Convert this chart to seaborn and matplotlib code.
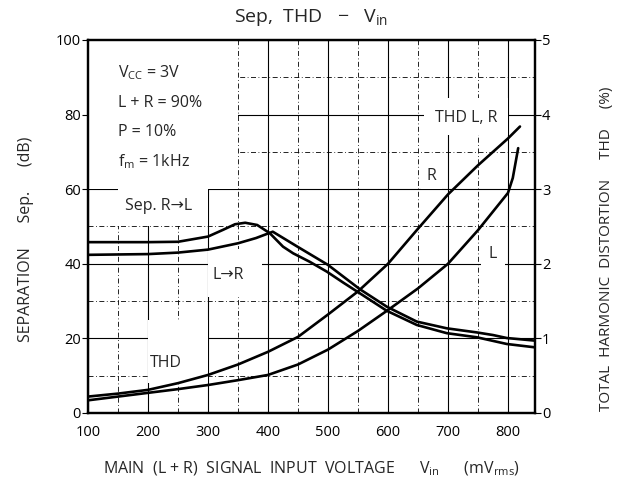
import matplotlib
matplotlib.use("Agg")
import matplotlib.pyplot as plt
from matplotlib.patches import Rectangle
from matplotlib.ticker import MultipleLocator
import seaborn as sns
import pandas as pd

# Separation curves (dB) vs input voltage (mVrms)
sep_r2l_x = [100, 200, 250, 300, 325, 345, 362, 382, 403, 425, 442, 470, 498, 525, 553, 598, 648, 698, 748, 798, 845]
sep_r2l_y = [45.8, 45.8, 45.9, 47.3, 49.1, 50.6, 51.0, 50.4, 48.2, 44.6, 42.8, 40.5, 37.9, 35.0, 32.1, 27.4, 23.6, 21.4, 20.3, 18.5, 17.6]
sep_l2r_x = [100, 200, 250, 300, 350, 380, 408, 450, 500, 553, 598, 648, 698, 748, 775, 798, 845]
sep_l2r_y = [42.4, 42.6, 43.0, 43.8, 45.5, 46.9, 48.6, 44.5, 39.7, 33.2, 28.5, 24.5, 22.7, 21.6, 20.9, 20.1, 19.4]

# THD curves (%) vs input voltage (mVrms)
thd_r_x = [100, 150, 200, 250, 300, 350, 400, 450, 500, 550, 600, 650, 700, 750, 800, 820]
thd_r_y = [0.22, 0.26, 0.31, 0.40, 0.51, 0.65, 0.82, 1.02, 1.32, 1.63, 2.0, 2.47, 2.93, 3.32, 3.68, 3.84]
thd_l_x = [100, 150, 200, 250, 300, 350, 400, 450, 500, 550, 600, 650, 700, 750, 800, 808, 817]
thd_l_y = [0.17, 0.22, 0.27, 0.32, 0.375, 0.44, 0.51, 0.65, 0.85, 1.1, 1.38, 1.67, 2.0, 2.45, 2.95, 3.15, 3.55]

x_ticks = [100, 200, 300, 400, 500, 600, 700, 800]
sep_ticks = [0, 20, 40, 60, 80, 100]
thd_ticks = [0, 1, 2, 3, 4, 5]

sns.set_style("white")
plt.rcParams["font.family"] = ["Open Sans", "DejaVu Sans"]
plt.rcParams["mathtext.default"] = "regular"

fig = plt.figure(figsize=(6.26, 4.8), dpi=100)
ax = fig.add_axes([0.1406, 0.1396, 0.7140, 0.7771])
ax2 = ax.twinx()

line_kw = dict(color="black", linewidth=1.9, sort=False, legend=False, estimator=None)
sns.lineplot(data=pd.DataFrame({"x": sep_r2l_x, "y": sep_r2l_y}), x="x", y="y", ax=ax, **line_kw)
sns.lineplot(data=pd.DataFrame({"x": sep_l2r_x, "y": sep_l2r_y}), x="x", y="y", ax=ax, **line_kw)
sns.lineplot(data=pd.DataFrame({"x": thd_r_x, "y": thd_r_y}), x="x", y="y", ax=ax2, **line_kw)
sns.lineplot(data=pd.DataFrame({"x": thd_l_x, "y": thd_l_y}), x="x", y="y", ax=ax2, **line_kw)

ax.set_xlim(100, 845)
ax.set_ylim(0, 100)
ax2.set_ylim(0, 5)

ax.set_xticks(x_ticks)
ax.set_yticks(sep_ticks)
ax2.set_yticks(thd_ticks)
ax.xaxis.set_minor_locator(MultipleLocator(50))
ax.yaxis.set_minor_locator(MultipleLocator(10))

ax.set_axisbelow(True)
ax.grid(which="major", color="black", linewidth=0.8)
ax.grid(which="minor", color="black", linewidth=0.6, linestyle=(0, (6, 3, 1, 3)))

for a in (ax, ax2):
    a.tick_params(axis="both", which="major", labelsize=10.5, length=4, width=0.8,
                  color="black", labelcolor="black", pad=1)
    a.tick_params(which="minor", length=0)
    for s in a.spines.values():
        s.set_color("black")
        s.set_linewidth(1.6)
ax.tick_params(axis="x", direction="in", length=0, pad=9)

# white boxes behind the annotations hide the grid
for (x0, y0, w, h) in [(100, 60, 250, 40), (150, 50, 150, 10), (300, 31, 90, 13),
                       (200, 8, 100, 17), (660, 74.5, 140, 10), (655, 60, 35, 9),
                       (755, 38, 40, 9)]:
    ax.add_patch(Rectangle((x0, y0), w, h, facecolor="white", edgecolor="none", zorder=1))

fs = 11.5
ax.text(150, 91.2, "$V_{CC}$ = 3V", fontsize=fs, va="center")
ax.text(150, 83.1, "L + R = 90%", fontsize=fs, va="center")
ax.text(150, 75.3, "P = 10%", fontsize=fs, va="center")
ax.text(150, 67.3, "$f_m$ = 1kHz", fontsize=fs, va="center")
ax.text(162, 55.5, "Sep. R\u2192L", fontsize=fs, va="center")
ax.text(308, 37.0, "L\u2192R", fontsize=fs, va="center")
ax.text(203, 13.5, "THD", fontsize=fs, va="center")
ax.text(678, 79.0, "THD L, R", fontsize=fs, va="center")
ax.text(665, 63.5, "R", fontsize=fs, va="center")
ax.text(767, 42.5, "L", fontsize=fs, va="center")

ax.set_title("Sep,  THD   \u2212   $V_{in}$", fontsize=14, pad=13)
ax.set_xlabel("MAIN  (L + R)  SIGNAL  INPUT  VOLTAGE      $V_{in}$      ($mV_{rms}$)", fontsize=11.5)
ax.xaxis.set_label_coords(0.5, -0.125)
ax.set_ylabel("SEPARATION      Sep.      (dB)", fontsize=11.5)
ax.yaxis.set_label_coords(-0.12, 0.465)
ax2.set_ylabel("TOTAL  HARMONIC  DISTORTION     THD     (%)", fontsize=11)
ax2.yaxis.set_label_coords(1.143, 0.44)
ax2.set_xlabel("")

fig.savefig("out.png", dpi=100)
